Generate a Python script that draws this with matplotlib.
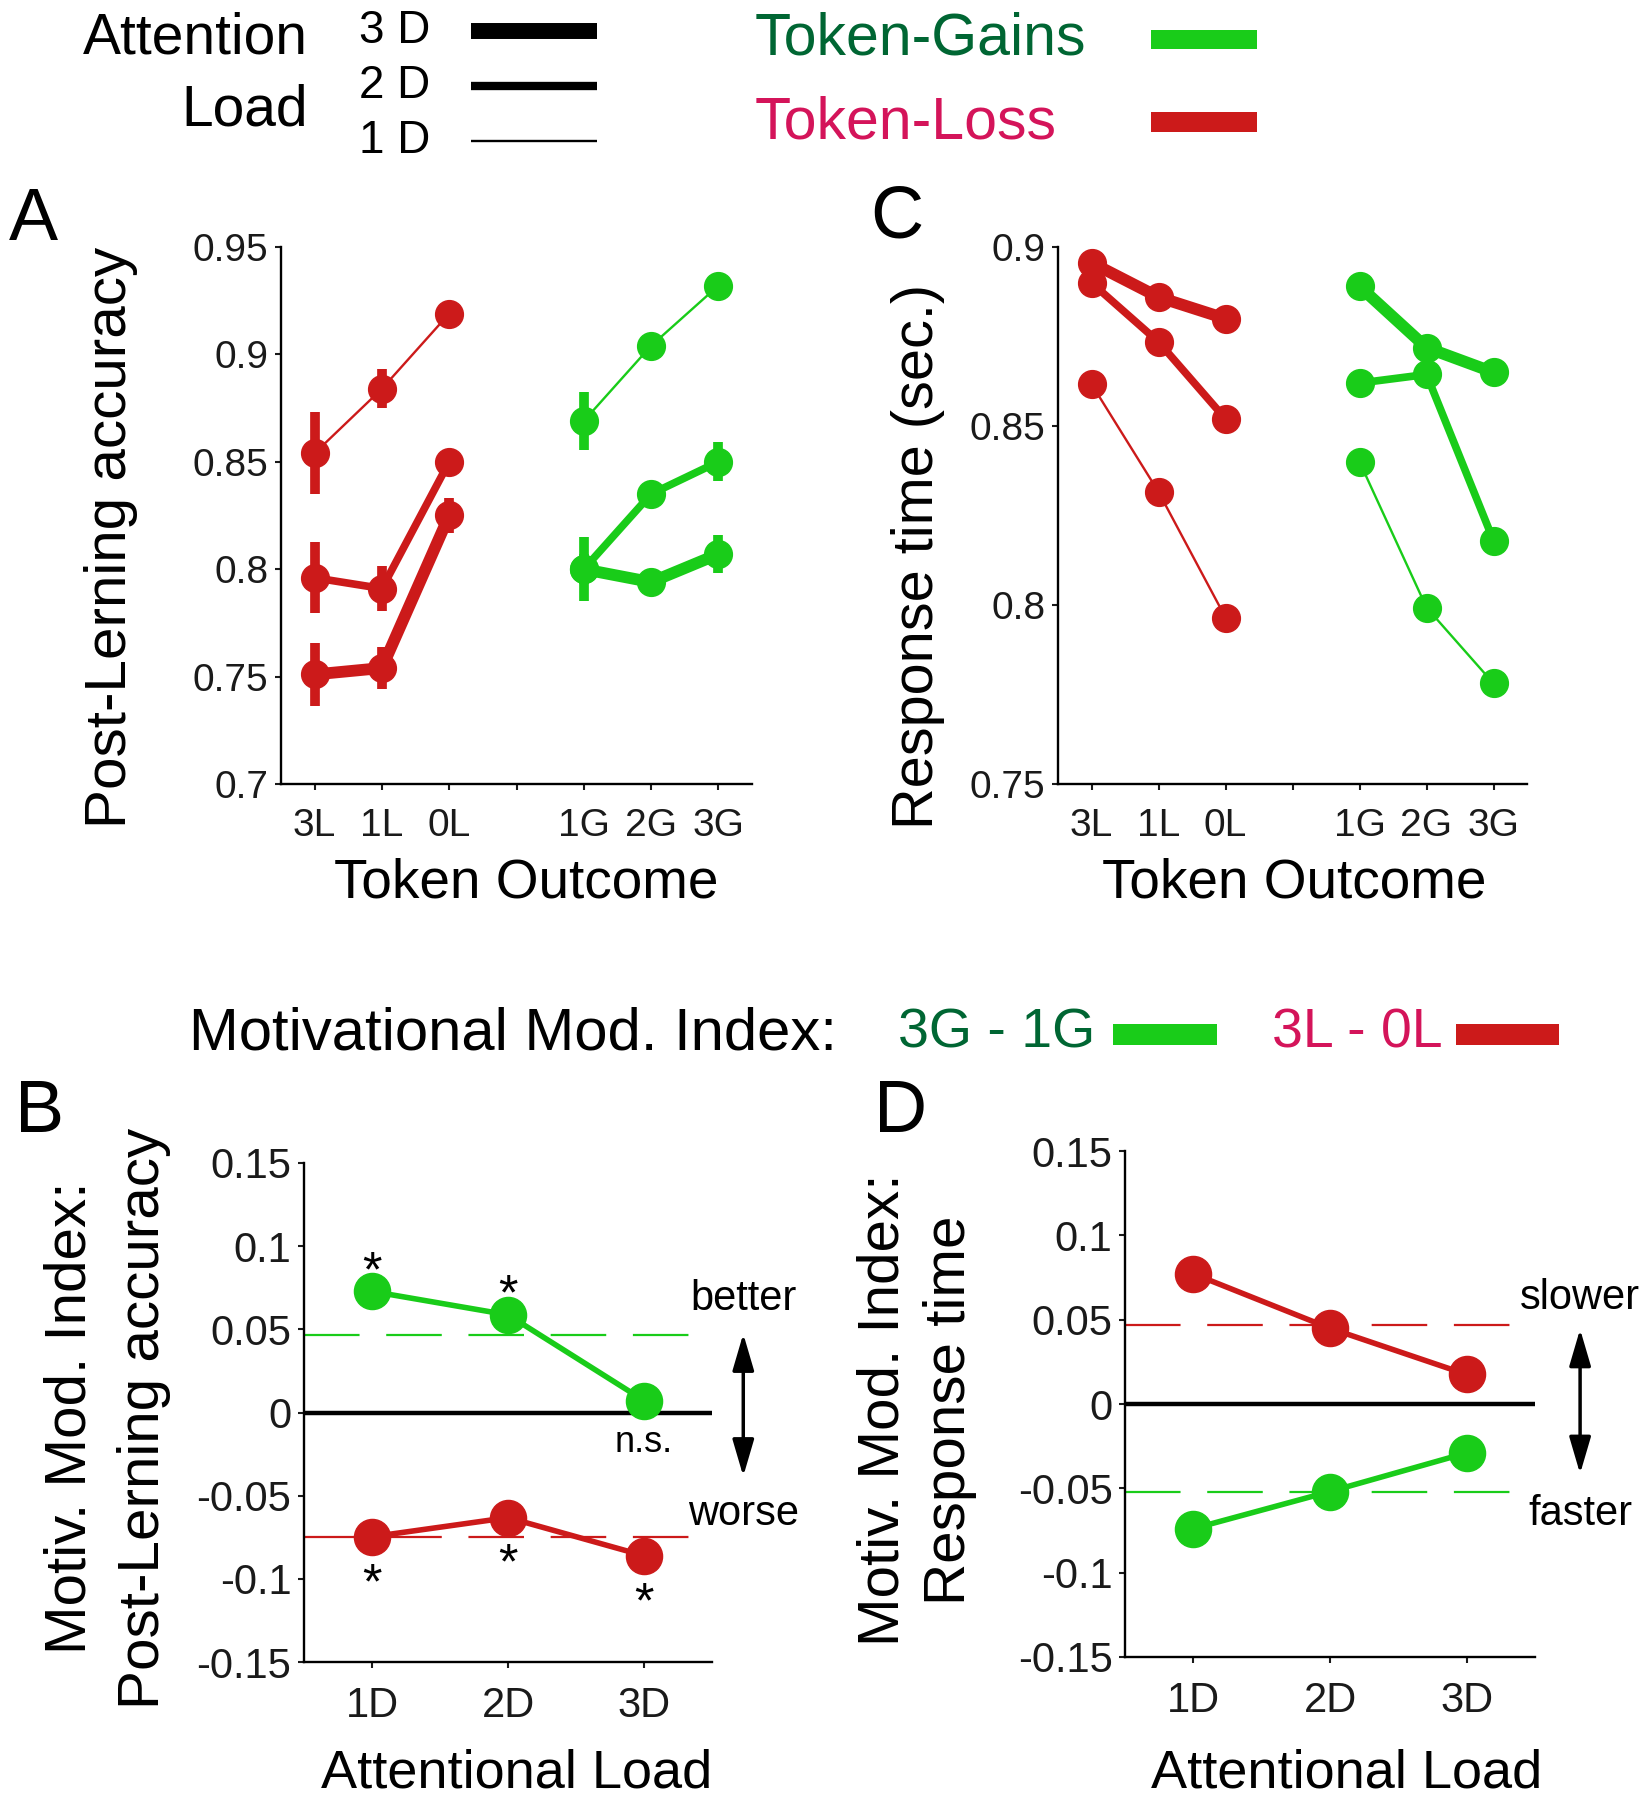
import numpy as np
import matplotlib
matplotlib.use('Agg')
import matplotlib.pyplot as plt
from matplotlib import font_manager as fm
from matplotlib.lines import Line2D
from matplotlib.patches import Rectangle

W, H, DPI = 1646, 1800, 100

names = {f.name for f in fm.fontManager.ttflist}
REG = 'Liberation Sans'
NAR = 'Liberation Sans Narrow' if 'Liberation Sans Narrow' in names else REG
plt.rcParams['font.family'] = REG

GREEN = '#19cc19'
RED = '#cc1a1a'
GREEN_TXT = '#006633'
PINK_TXT = '#d4145a'

# ---- data -------------------------------------------------------------
outcome_labels = ['3L', '1L', '0L', '', '1G', '2G', '3G']
loss_x = [1, 2, 3]
gain_x = [5, 6, 7]
load_labels = ['1D', '2D', '3D']
load_x = [1, 2, 3]

# post-learning accuracy (A), per attentional load 1D / 2D / 3D
acc_loss_1d = [0.854, 0.884, 0.919]
acc_loss_2d = [0.796, 0.791, 0.850]
acc_loss_3d = [0.751, 0.754, 0.825]
acc_gain_1d = [0.869, 0.904, 0.932]
acc_gain_2d = [0.800, 0.835, 0.850]
acc_gain_3d = [0.800, 0.794, 0.807]
acc_loss_err_1d = [0.019, 0.009, 0.004]
acc_loss_err_2d = [0.0165, 0.0105, 0.006]
acc_loss_err_3d = [0.0145, 0.010, 0.008]
acc_gain_err_1d = [0.0135, 0.004, 0.004]
acc_gain_err_2d = [0.007, 0.006, 0.009]
acc_gain_err_3d = [0.015, 0.006, 0.009]

# response time (C)
rt_loss_1d = [0.8617, 0.8316, 0.7965]
rt_loss_2d = [0.890, 0.8735, 0.852]
rt_loss_3d = [0.8956, 0.886, 0.880]
rt_gain_1d = [0.840, 0.7993, 0.7781]
rt_gain_2d = [0.862, 0.8644, 0.818]
rt_gain_3d = [0.889, 0.8719, 0.865]
rt_loss_err_1d = [0.002, 0.001, 0.001]
rt_loss_err_2d = [0.002, 0.001, 0.001]
rt_loss_err_3d = [0.0025, 0.001, 0.001]
rt_gain_err = [0.001, 0.001, 0.001]

# motivational modulation index (B, D)
mmi_acc_gain = [0.0728, 0.0587, 0.0072]
mmi_acc_loss = [-0.0747, -0.0632, -0.0861]
mmi_rt_gain = [-0.0739, -0.0519, -0.029]
mmi_rt_loss = [0.0772, 0.0449, 0.0175]
acc_gain_ref = 0.0465
acc_loss_ref = -0.0747
rt_loss_ref = 0.0468
rt_gain_ref = -0.0519
acc_sig_gain = ['*', '*', 'n.s.']
acc_sig_loss = ['*', '*', '*']

acc_ticks = [0.7, 0.75, 0.8, 0.85, 0.9, 0.95]
acc_ticklabels = ['0.7', '0.75', '0.8', '0.85', '0.9', '0.95']
rt_ticks = [0.75, 0.8, 0.85, 0.9]
rt_ticklabels = ['0.75', '0.8', '0.85', '0.9']
mmi_ticks = [-0.15, -0.1, -0.05, 0, 0.05, 0.1, 0.15]
mmi_ticklabels = ['-0.15', '-0.1', '-0.05', '0', '0.05', '0.1', '0.15']

line_w = [1.7, 5.5, 8.5]   # 1D, 2D, 3D

# ---- figure -----------------------------------------------------------
fig = plt.figure(figsize=(W / DPI, H / DPI), dpi=DPI)


def T(x, y, s, **kw):
    kw.setdefault('ha', 'center')
    kw.setdefault('va', 'center')
    return fig.text(x / W, 1 - y / H, s, **kw)


def hline(x0, x1, y, lw, color):
    fig.add_artist(Line2D([x0 / W, x1 / W], [1 - y / H] * 2, transform=fig.transFigure,
                          lw=lw, color=color, solid_capstyle='butt'))


def patch(x0, x1, y0, y1, color):
    fig.add_artist(Rectangle((x0 / W, 1 - y1 / H), (x1 - x0) / W, (y1 - y0) / H,
                             transform=fig.transFigure, color=color, lw=0))


def add_ax(l, t, r, b, tick_size):
    ax = fig.add_axes([l / W, 1 - b / H, (r - l) / W, (b - t) / H])
    ax.set_facecolor('none')
    for s in ['top', 'right']:
        ax.spines[s].set_visible(False)
    for s in ['left', 'bottom']:
        ax.spines[s].set_linewidth(1.7)
    ax.tick_params(direction='out', length=4, width=1.5, labelsize=tick_size, colors='#1a1a1a')
    ax.tick_params(axis='x', pad=13)
    ax.tick_params(axis='y', pad=5)
    return ax


# top legend
T(308, 39, 'Attention', ha='right', fontsize=41, family=NAR)
T(308, 110, 'Load', ha='right', fontsize=41, family=NAR)
for lab, yy, lw in [('3 D', 31, 11.5), ('2 D', 86, 6), ('1 D', 141, 1.7)]:
    T(359, yy, lab, ha='left', fontsize=33, family=NAR)
    hline(471, 597, yy, lw, 'black')
T(755, 39, 'Token-Gains', ha='left', fontsize=42.5, color=GREEN_TXT)
T(755, 123, 'Token-Loss', ha='left', fontsize=42.5, color=PINK_TXT)
patch(1151, 1257, 30, 49, GREEN)
patch(1151, 1257, 112, 132, RED)

# MMI legend
T(189, 1034, 'Motivational Mod. Index:', ha='left', fontsize=43, family=NAR)
T(898, 1034, '3G - 1G', ha='left', fontsize=40, color=GREEN_TXT, family=NAR)
patch(1113, 1217, 1024, 1045, GREEN)
T(1272, 1034, '3L - 0L', ha='left', fontsize=40, color=PINK_TXT, family=NAR)
patch(1456, 1559, 1024, 1045, RED)

# panel letters
for lab, x, y in [('A', 33, 220), ('C', 897, 218), ('B', 40, 1112), ('D', 901, 1112)]:
    T(x, y, lab, fontsize=53)

# ---- A: accuracy ------------------------------------------------------
axA = add_ax(281, 247, 752, 784, 28)
for k, (yl, el, yg, eg) in enumerate([
        (acc_loss_1d, acc_loss_err_1d, acc_gain_1d, acc_gain_err_1d),
        (acc_loss_2d, acc_loss_err_2d, acc_gain_2d, acc_gain_err_2d),
        (acc_loss_3d, acc_loss_err_3d, acc_gain_3d, acc_gain_err_3d)]):
    axA.errorbar(loss_x, yl, yerr=el, color=RED, lw=line_w[k], marker='o', ms=20,
                 elinewidth=7, capsize=0)
    axA.errorbar(gain_x, yg, yerr=eg, color=GREEN, lw=line_w[k], marker='o', ms=20,
                 elinewidth=7, capsize=0)
axA.set_xlim(0.5, 7.5)
axA.set_ylim(0.7, 0.95)
axA.set_xticks(range(1, 8))
axA.set_xticklabels(outcome_labels)
axA.set_yticks(acc_ticks)
axA.set_yticklabels(acc_ticklabels)
T(111, 537, 'Post-Lerning accuracy', rotation=90, fontsize=42)
T(526, 884, 'Token Outcome', fontsize=39.5)

# ---- C: response time -------------------------------------------------
axC = add_ax(1058, 247, 1527, 784, 28)
for k, (yl, el, yg) in enumerate([
        (rt_loss_1d, rt_loss_err_1d, rt_gain_1d),
        (rt_loss_2d, rt_loss_err_2d, rt_gain_2d),
        (rt_loss_3d, rt_loss_err_3d, rt_gain_3d)]):
    axC.errorbar(loss_x, yl, yerr=el, color=RED, lw=line_w[k], marker='o', ms=20,
                 elinewidth=7, capsize=0)
    axC.errorbar(gain_x, yg, yerr=rt_gain_err, color=GREEN, lw=line_w[k], marker='o', ms=20,
                 elinewidth=7, capsize=0)
axC.set_xlim(0.5, 7.5)
axC.set_ylim(0.75, 0.9)
axC.set_xticks(range(1, 8))
axC.set_xticklabels(outcome_labels)
axC.set_yticks(rt_ticks)
axC.set_yticklabels(rt_ticklabels)
T(918, 556, 'Response time (sec.)', rotation=90, fontsize=41.5)
T(1294, 884, 'Token Outcome', fontsize=39.5)


# ---- B / D: modulation index ------------------------------------------
def mmi_panel(ax, top, bottom, ref_top, ref_bot, col_top, col_bot):
    ax.axhline(0, color='black', lw=3.2, zorder=1)
    ax.axhline(ref_top, color=col_top, lw=1.6, dashes=(25, 12), zorder=1)
    ax.axhline(ref_bot, color=col_bot, lw=1.6, dashes=(25, 12), zorder=1)
    ax.plot(load_x, top, color=col_top, lw=4, marker='o', ms=26, zorder=3)
    ax.plot(load_x, bottom, color=col_bot, lw=4, marker='o', ms=26, zorder=3)
    ax.set_xlim(0.5, 3.5)
    ax.set_ylim(-0.15, 0.15)
    ax.set_xticks(load_x)
    ax.set_xticklabels(load_labels)
    ax.set_yticks(mmi_ticks)
    ax.set_yticklabels(mmi_ticklabels)


axB = add_ax(304, 1163, 712, 1662, 30)
mmi_panel(axB, mmi_acc_gain, mmi_acc_loss, acc_gain_ref, acc_loss_ref, GREEN, RED)
for x, v, s in zip(load_x, mmi_acc_gain, acc_sig_gain):
    if s == '*':
        axB.text(x, v + 0.011, s, ha='center', va='center', fontsize=36)
    else:
        axB.text(x, v - 0.025, s, ha='center', va='center', fontsize=26)
for x, v, s in zip(load_x, mmi_acc_loss, acc_sig_loss):
    axB.text(x, v - 0.029, s, ha='center', va='center', fontsize=36)
axB.annotate('', xy=(3.73, 0.049), xytext=(3.73, -0.04), annotation_clip=False,
             arrowprops=dict(arrowstyle='<|-|>,head_length=0.75,head_width=0.22',
                             mutation_scale=30, lw=2.5, color='black'))
axB.text(3.73, 0.068, 'better', ha='center', va='center', fontsize=30, clip_on=False)
axB.text(3.73, -0.061, 'worse', ha='center', va='center', fontsize=30, clip_on=False)
T(71, 1418, 'Motiv. Mod. Index:', rotation=90, fontsize=42, family=NAR)
T(144, 1418, 'Post-Lerning accuracy', rotation=90, fontsize=42, family=NAR)
T(517, 1774, 'Attentional Load', fontsize=39)

axD = add_ax(1125, 1151, 1535, 1657, 30)
mmi_panel(axD, mmi_rt_loss, mmi_rt_gain, rt_loss_ref, rt_gain_ref, RED, GREEN)
axD.annotate('', xy=(3.83, 0.046), xytext=(3.83, -0.043), annotation_clip=False,
             arrowprops=dict(arrowstyle='<|-|>,head_length=0.75,head_width=0.22',
                             mutation_scale=30, lw=2.5, color='black'))
axD.text(3.83, 0.063, 'slower', ha='center', va='center', fontsize=30, clip_on=False)
axD.text(3.83, -0.065, 'faster', ha='center', va='center', fontsize=30, clip_on=False)
T(884, 1410, 'Motiv. Mod. Index:', rotation=90, fontsize=42, family=NAR)
T(950, 1410, 'Response time', rotation=90, fontsize=42, family=NAR)
T(1347, 1774, 'Attentional Load', fontsize=39)

fig.savefig('out.png', dpi=DPI)
